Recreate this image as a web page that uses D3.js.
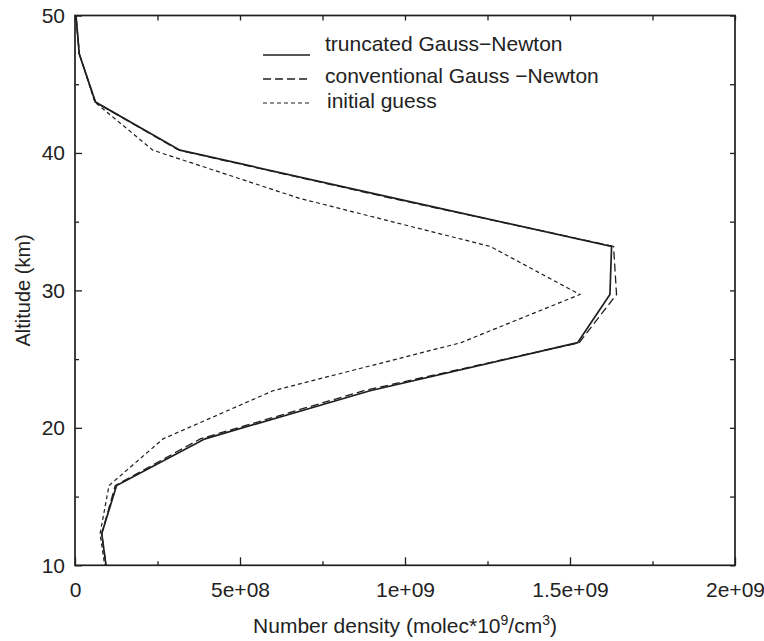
<!DOCTYPE html>
<html>
<head>
<meta charset="utf-8">
<script src="https://cdn.jsdelivr.net/npm/d3@7"></script>
<style>
  html, body { margin: 0; padding: 0; background: #fff; }
  svg { display: block; }
  text { font-family: "Liberation Sans", Arial, Helvetica, sans-serif; fill: #222; }
</style>
</head>
<body>
<svg id="chart" width="764" height="641"></svg>
<script>
// Retrieved ozone number-density profiles versus altitude
const altitudes = [50, 47.2, 43.7, 40.2, 36.7, 33.2, 29.7, 26.2, 22.7, 19.2, 15.8, 12.3, 10];
const truncatedGN = [3e6, 1.3e7, 6.2e7, 3.18e8, 9.7e8, 1.626e9, 1.621e9, 1.523e9, 8.94e8, 3.94e8, 1.26e8, 8.1e7, 9.4e7];
const conventionalGN = [3e6, 1.3e7, 6.2e7, 3.15e8, 9.6e8, 1.632e9, 1.641e9, 1.528e9, 8.75e8, 3.8e8, 1.22e8, 8.1e7, 9.4e7];
const initialGuess = [3e6, 1.3e7, 6.0e7, 2.36e8, 6.8e8, 1.258e9, 1.53e9, 1.17e9, 6.0e8, 2.67e8, 1.03e8, 7.6e7, 9.0e7];

const seriesNames = ["truncated Gauss\u2212Newton", "conventional Gauss \u2212Newton", "initial guess"];
const xTickValues = [0, 5e8, 1e9, 1.5e9, 2e9];
const xTickLabels = ["0", "5e+08", "1e+09", "1.5e+09", "2e+09"];
const xMinorTicks = [2.5e8, 7.5e8, 1.25e9, 1.75e9];
const yTickValues = [10, 20, 30, 40, 50];
const yMinorTicks = [15, 25, 35, 45];

const svg = d3.select("#chart");
const plotLeft = 75, plotRight = 735, plotTop = 15.5, plotBottom = 565.3;

const x = d3.scaleLinear().domain([0, 2e9]).range([plotLeft, plotRight]);
const y = d3.scaleLinear().domain([10, 50]).range([plotBottom, plotTop]);

const ink = "#1e1e1e";

// Tick marks point into the plot on all four sides
function styleAxis(g) {
  g.select(".domain").remove();
  g.selectAll(".tick line").attr("stroke", ink).attr("stroke-width", 1.3);
  g.selectAll(".tick text").style("font-size", "21px").attr("fill", ink);
}

svg.append("g").attr("transform", `translate(0,${plotBottom})`)
  .call(d3.axisBottom(x).tickValues(xTickValues)
    .tickFormat((d, i) => xTickLabels[i]).tickSize(-8).tickPadding(17))
  .call(styleAxis);
svg.append("g").attr("transform", `translate(0,${plotBottom})`)
  .call(d3.axisBottom(x).tickValues(xMinorTicks).tickFormat("").tickSize(-4))
  .call(styleAxis);
svg.append("g").attr("transform", `translate(0,${plotTop})`)
  .call(d3.axisTop(x).tickValues(xTickValues.concat(xMinorTicks)).tickFormat("").tickSize(-5))
  .call(styleAxis);

svg.append("g").attr("transform", `translate(${plotLeft},0)`)
  .call(d3.axisLeft(y).tickValues(yTickValues).tickFormat(d3.format("d")).tickSize(-7).tickPadding(10))
  .call(styleAxis);
svg.append("g").attr("transform", `translate(${plotLeft},0)`)
  .call(d3.axisLeft(y).tickValues(yMinorTicks).tickFormat("").tickSize(-4))
  .call(styleAxis);
svg.append("g").attr("transform", `translate(${plotRight},0)`)
  .call(d3.axisRight(y).tickValues(yTickValues.concat(yMinorTicks)).tickFormat("").tickSize(-5))
  .call(styleAxis);

// Plot frame
svg.append("rect")
  .attr("x", plotLeft).attr("y", plotTop)
  .attr("width", plotRight - plotLeft).attr("height", plotBottom - plotTop)
  .attr("fill", "none").attr("stroke", ink).attr("stroke-width", 1.7);

// Profiles
const styles = [
  { values: truncatedGN, dash: null, width: 1.7 },
  { values: conventionalGN, dash: "8,4", width: 1.3 },
  { values: initialGuess, dash: "4,3", width: 1.2 }
];

const line = d3.line().x(d => x(d[0])).y(d => y(d[1]));

svg.append("defs").append("clipPath").attr("id", "plot-clip")
  .append("rect").attr("x", plotLeft).attr("y", plotTop)
  .attr("width", plotRight - plotLeft).attr("height", plotBottom - plotTop);

const plot = svg.append("g").attr("clip-path", "url(#plot-clip)");
// draw initial guess first so the retrievals sit on top
[2, 1, 0].forEach(i => {
  const s = styles[i];
  plot.append("path")
    .datum(s.values.map((v, k) => [v, altitudes[k]]))
    .attr("d", line)
    .attr("fill", "none")
    .attr("stroke", ink)
    .attr("stroke-width", s.width)
    .attr("stroke-dasharray", s.dash);
});

// Legend
const legendRows = [
  { lineY: 55, textY: 51 },
  { lineY: 79, textY: 82.7 },
  { lineY: 103, textY: 108.3 }
];
const legend = svg.append("g");
legendRows.forEach((r, i) => {
  legend.append("line")
    .attr("x1", 263).attr("x2", 310)
    .attr("y1", r.lineY).attr("y2", r.lineY)
    .attr("stroke", ink).attr("stroke-width", styles[i].width)
    .attr("stroke-dasharray", styles[i].dash);
  legend.append("text")
    .attr("x", i === 2 ? 327 : 325).attr("y", r.textY)
    .style("font-size", "21px")
    .text(seriesNames[i]);
});

// Axis titles
const xTitle = svg.append("text")
  .attr("x", (plotLeft + plotRight) / 2).attr("y", 633)
  .attr("text-anchor", "middle")
  .style("font-size", "21px");
xTitle.append("tspan").text("Number density (molec*10");
xTitle.append("tspan").attr("dy", -8).style("font-size", "14px").text("9");
xTitle.append("tspan").attr("dy", 8).text("/cm");
xTitle.append("tspan").attr("dy", -8).style("font-size", "14px").text("3");
xTitle.append("tspan").attr("dy", 8).text(")");

svg.append("text")
  .attr("transform", `translate(30,${(plotTop + plotBottom) / 2}) rotate(-90)`)
  .attr("text-anchor", "middle")
  .style("font-size", "20px")
  .text("Altitude (km)");
</script>
</body>
</html>
